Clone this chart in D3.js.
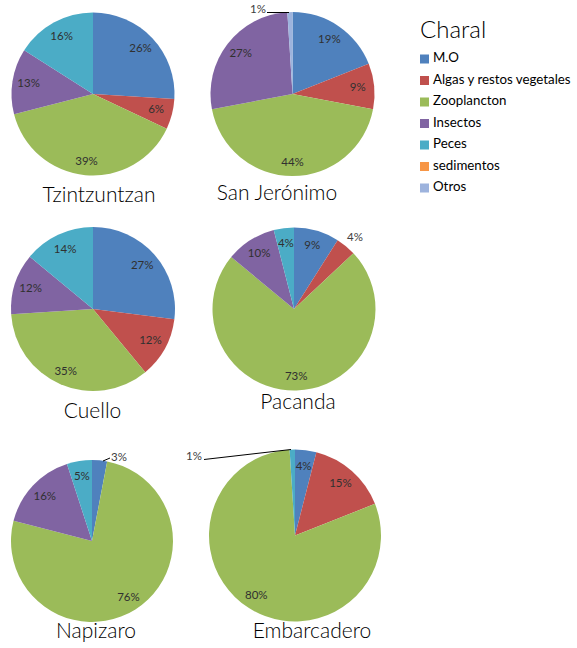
<!DOCTYPE html>
<html><head><meta charset="utf-8">
<script src="https://cdn.jsdelivr.net/npm/d3@7"></script>
<style>body{margin:0;background:#fff}svg{display:block}text{font-family:Lato,"Open Sans",sans-serif}</style>
</head><body>
<svg id="c" width="577" height="648"></svg>
<script>
const categories = ["M.O","Algas y restos vegetales","Zooplancton","Insectos","Peces","sedimentos","Otros"];
const colors = ["#4F81BD","#C0504D","#9BBB59","#8064A2","#4BACC6","#F79646","#9DB3DD"];
const sites = ["Tzintzuntzan","San Jerónimo","Cuello","Pacanda","Napizaro","Embarcadero"];
const tzintzuntzan = [26,6,39,13,16,0,0];
const sanJeronimo = [19,9,44,27,0,0,1];
const cuello = [27,12,35,12,14,0,0];
const pacanda = [9,4,73,10,4,0,0];
const napizaro = [3,0,76,16,5,0,0];
const embarcadero = [4,15,80,0,1,0,0];
const legendTitle = "Charal";
const siteValues = [tzintzuntzan,sanJeronimo,cuello,pacanda,napizaro,embarcadero];

// layout
const layout = [
  {cx:93, cy:94, r:81.5, tx:99, ty:202},
  {cx:292.5, cy:94, r:82, tx:277, ty:200},
  {cx:93, cy:309, r:82, tx:92.5, ty:418},
  {cx:294, cy:309, r:81.5, tx:298, ty:409},
  {cx:92, cy:541, r:81, tx:96, ty:638},
  {cx:295, cy:535.5, r:86, tx:312, ty:638}
];
// outside labels
const outside = [
  {s:1, c:6, x:258, y:10, line:[[267,12.5],[289,12.5]]},
  {s:3, c:1, x:355, y:238, line:null},
  {s:4, c:0, x:119, y:458, line:[[103,461],[110,458]]},
  {s:5, c:4, x:194, y:457, line:[[204,459.5],[291,449.5]]}
];

const svg = d3.select("#c");
const color = d3.scaleOrdinal().domain(categories).range(colors);
const pie = d3.pie().sort(null).value(d=>d.v);

siteValues.forEach((vals,i)=>{
  const L = layout[i];
  const g = svg.append("g").attr("transform",`translate(${L.cx},${L.cy})`);
  const data = categories.map((c,k)=>({c, k, v: vals[k]}));
  const arcs = pie(data).filter(a=>a.data.v>0);
  const arc = d3.arc().innerRadius(0).outerRadius(L.r);
  g.selectAll("path").data(arcs).join("path")
    .attr("d",arc).attr("fill",d=>color(d.data.c));
  arcs.forEach(a=>{
    const o = outside.find(o=>o.s===i && o.c===a.data.k);
    if(o){
      svg.append("text").attr("x",o.x).attr("y",o.y).attr("text-anchor","middle")
        .attr("dominant-baseline","middle").attr("font-size",11.5).attr("fill","#404040")
        .text(a.data.v+"%");
      if(o.line){
        svg.append("path").attr("d",d3.line()(o.line)).attr("stroke","#000")
          .attr("stroke-width",1).attr("fill","none");
      }
    } else {
      const f = (a.endAngle-a.startAngle) > 2 ? 0.84 : 0.8;
      const la = d3.arc().innerRadius(L.r*f).outerRadius(L.r*f);
      const [x,y] = la.centroid(a);
      g.append("text").attr("x",x).attr("y",y).attr("text-anchor","middle")
        .attr("dominant-baseline","middle").attr("font-size",11.5).attr("fill","#303030")
        .text(a.data.v+"%");
    }
  });
  svg.append("text").attr("x",L.tx).attr("y",L.ty).attr("text-anchor","middle")
    .attr("font-size",21).attr("font-weight",300).attr("fill","#000").text(sites[i]);
});

// legend
svg.append("text").attr("x",420).attr("y",38).attr("font-size",24).attr("font-weight",300).attr("fill","#000").text(legendTitle);
const lg = svg.append("g");
categories.forEach((c,k)=>{
  const y = 59 + k*21.5;
  lg.append("rect").attr("x",420).attr("y",y-4.5).attr("width",9).attr("height",9).attr("fill",color(c));
  lg.append("text").attr("x",433).attr("y",y).attr("dominant-baseline","middle")
    .attr("font-size",13.3).attr("fill","#000").text(c);
});
</script>
</body></html>
